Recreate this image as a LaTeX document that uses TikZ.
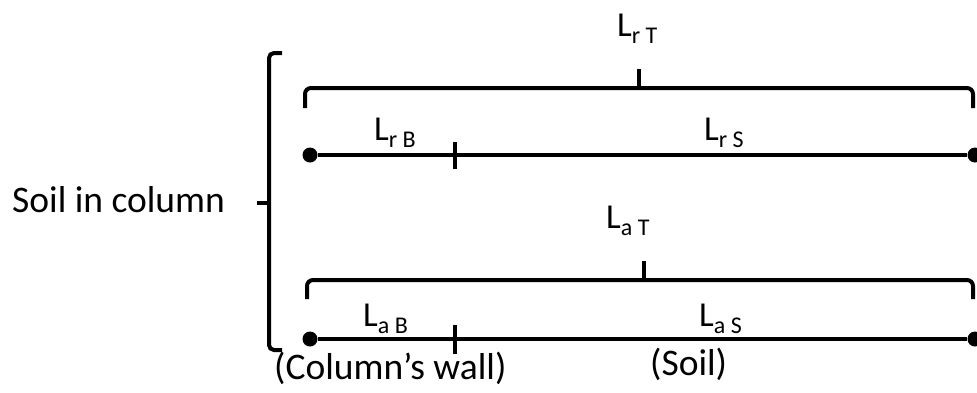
\documentclass[tikz,border=0pt]{standalone}
\usepackage{fontspec}
\setmainfont{Carlito}
\newcommand\Llab[1]{L\raisebox{-7pt}{\fontsize{24}{27}\selectfont #1}}
\tikzset{
  ln/.style={line width=4pt},
  brc/.style={line width=4pt, rounded corners=6pt},
  dot/.style={circle, fill=black, inner sep=0pt, minimum size=15pt},
  lab/.style={anchor=base west, inner sep=0pt, font=\fontsize{35}{38}\selectfont},
  txt/.style={anchor=base west, inner sep=0pt, font=\fontsize{37.5}{40}\selectfont},
}
\begin{document}
\begin{tikzpicture}[x=1pt,y=-1pt]
\useasboundingbox (0,0) rectangle (977,392);
% left bracket
\coordinate (bt) at (282,53);
\coordinate (bb) at (282,350);
\coordinate (bm) at (269,203);
\coordinate (bmt) at (257,203);
\draw[brc,rounded corners=5pt] (bt) -- (269,53) -- (269,350) -- (bb);
\draw[ln] (bm) -- (bmt);
\node[txt] (soil) at (12,212) {Soil in column};
% top brace
\coordinate (tl) at (305,108);
\coordinate (tr) at (973,108);
\coordinate (tm) at (639,88);
\coordinate (tmt) at (639,69);
\draw[brc] (tl) -- (305,88) -- (973,88) -- (tr);
\draw[ln] (tm) -- (tmt);
\node[lab] (lrt) at (617,36) {\Llab{r T}};
% line r
\node[dot] (r1) at (310,155) {};
\node[dot] (r2) at (975,155) {};
\draw[ln] (r1) -- (r2);
\coordinate (rt1) at (455,142);
\coordinate (rt2) at (455,169);
\draw[ln] (rt1) -- (rt2);
\node[lab] (lrb) at (374,140) {\Llab{r B}};
\node[lab] (lrs) at (704,140) {\Llab{r S}};
% bottom brace
\coordinate (al) at (307,299);
\coordinate (ar) at (973,299);
\coordinate (am) at (644,280);
\coordinate (amt) at (644,261);
\draw[brc] (al) -- (307,280) -- (973,280) -- (ar);
\draw[ln] (am) -- (amt);
\node[lab] (lat) at (606,228) {\Llab{a T}};
% line a
\node[dot] (a1) at (310,339) {};
\node[dot] (a2) at (975,339) {};
\draw[ln] (a1) -- (a2);
\coordinate (at1) at (455,325);
\coordinate (at2) at (455,354);
\draw[ln] (at1) -- (at2);
\node[lab] (lab) at (363,326) {\Llab{a B}};
\node[lab] (las) at (699,326) {\Llab{a S}};
% bottom texts
\node[txt] (wall) at (274,379) {(Column’s wall)};
\node[txt] (soil2) at (650,375) {(Soil)};
\end{tikzpicture}
\end{document}
